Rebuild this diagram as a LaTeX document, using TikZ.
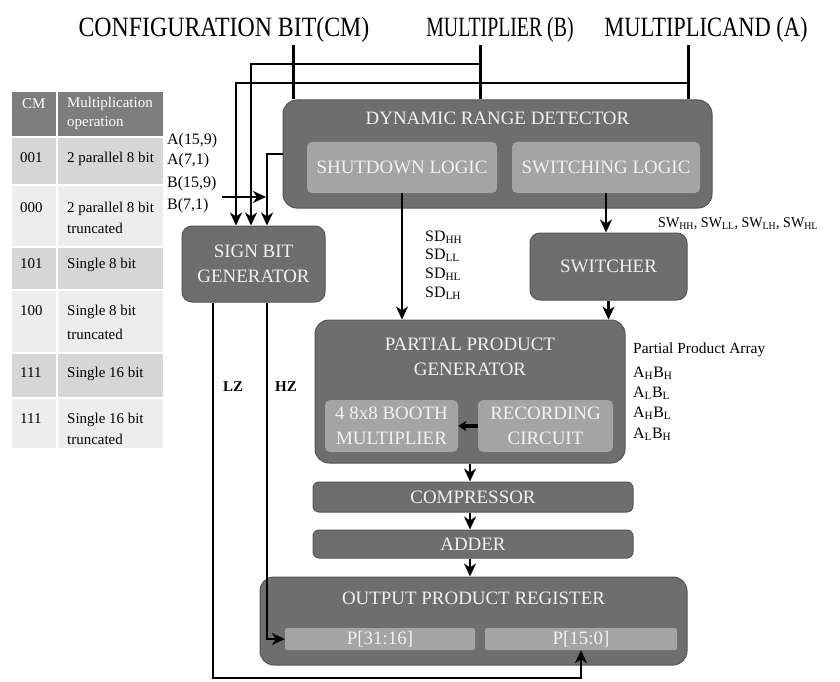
\documentclass[tikz,border=0pt]{standalone}
\usepackage{fontspec}
\setmainfont{Liberation Serif}
\usetikzlibrary{arrows.meta,calc}
\definecolor{dk}{RGB}{110,110,110}
\definecolor{lt}{RGB}{164,164,164}
\definecolor{edgec}{RGB}{85,85,85}
\definecolor{txt}{RGB}{242,242,242}
\definecolor{hdr}{RGB}{125,125,125}
\definecolor{rowa}{RGB}{214,214,214}
\definecolor{rowb}{RGB}{237,237,237}
\newcommand\fsz[2]{\fontsize{#1}{#2}\selectfont}
\begin{document}
\begin{tikzpicture}[x=1bp,y=-1bp,
  dkbox/.style={rectangle,rounded corners=#1,fill=dk,draw=edgec,line width=1bp,inner sep=0pt},
  dkbox/.default=10bp,
  ltbox/.style={rectangle,rounded corners=#1,fill=lt,draw=none,inner sep=0pt},
  ltbox/.default=5bp,
  wh/.style 2 args={minimum width=#1bp,minimum height=#2bp},
  btxt/.style={text=txt,font=\fsz{19}{25},align=center,inner sep=0pt},
  ttl/.style={font=\fsz{28}{32},inner sep=2bp},
  lbl/.style={font=\fsz{16}{18},inner sep=0pt,anchor=base west},
  tbl/.style={font=\fsz{15}{17},inner sep=0pt,anchor=base west},
  tblh/.style={font=\fsz{15}{17},inner sep=0pt,anchor=base west,text=white},
  wire/.style={line width=3bp},
  arr/.style={line width=2.8bp,-{Stealth[length=13bp,width=12bp,inset=4bp]}},
  sarr/.style={line width=3.2bp,-{Stealth[length=8bp,width=10bp,inset=2bp]}}]
\useasboundingbox[fill=white] (0,0) rectangle (840,682);

% ---- table ----
\fill[hdr]  (12,92)  rectangle (163,137);
\fill[rowa] (12,137) rectangle (163,185);
\fill[rowb] (12,185) rectangle (163,247);
\fill[rowa] (12,247) rectangle (163,290);
\fill[rowb] (12,290) rectangle (163,353);
\fill[rowa] (12,353) rectangle (163,398);
\fill[rowb] (12,398) rectangle (163,448);
\foreach \yy in {137,185,247,290,353,398} \draw[white,line width=1.5bp] (12,\yy) -- (163,\yy);
\draw[white,line width=2bp] (57,92) -- (57,448);
\node[tblh] (hcm) at (22,109) {CM};
\node[tblh] (hmo) at (67,108) {Multiplication};
\node[tblh] (hmo2) at (67,127) {operation};
\node[tbl] (r1a) at (20,163) {001};
\node[tbl] (r1b) at (67,163) {2 parallel 8 bit};
\node[tbl] (r2a) at (20,212) {000};
\node[tbl] (r2b) at (67,212) {2 parallel 8 bit};
\node[tbl] (r2c) at (67,233) {truncated};
\node[tbl] (r3a) at (20,268) {101};
\node[tbl] (r3b) at (67,268) {Single 8 bit};
\node[tbl] (r4a) at (20,315) {100};
\node[tbl] (r4b) at (67,315) {Single 8 bit};
\node[tbl] (r4c) at (67,339) {truncated};
\node[tbl] (r5a) at (20,377) {111};
\node[tbl] (r5b) at (67,377) {Single 16 bit};
\node[tbl] (r6a) at (20,423) {111};
\node[tbl] (r6b) at (67,423) {Single 16 bit};
\node[tbl] (r6c) at (67,444) {truncated};

% ---- titles ----
\node[ttl] (cfgt) at (224,30) {\scalebox{0.855}[1]{CONFIGURATION BIT(CM)}};
\node[ttl] (mult) at (500,30) {\scalebox{0.71}[1]{MULTIPLIER (B)}};
\node[ttl] (mcand) at (706,30) {\scalebox{0.805}[1]{MULTIPLICAND (A)}};

% ---- boxes ----
\node[dkbox=14bp,wh={429}{108}] (drd) at (497.5,154) {};
\node[btxt] (drdt) at (497.5,118) {DYNAMIC RANGE DETECTOR};
\node[ltbox,wh={190}{51},btxt] (sdl) at (402,167.5) {SHUTDOWN LOGIC};
\node[ltbox,wh={188}{51},btxt] (swl) at (606,167.5) {SWITCHING LOGIC};
\node[dkbox,wh={143}{76},btxt] (sbg) at (253.5,264) {SIGN BIT\\GENERATOR};
\node[dkbox,wh={157}{67},btxt] (swr) at (608.5,266.5) {SWITCHER};
\node[dkbox=14bp,wh={310}{143}] (ppg) at (470,391.5) {};
\node[btxt] (ppgt) at (470,357) {PARTIAL PRODUCT\\GENERATOR};
\node[ltbox,wh={133}{52},btxt] (booth) at (391.5,426) {4 8x8 BOOTH\\MULTIPLIER};
\node[ltbox,wh={135}{52},btxt] (rec) at (545.5,426) {RECORDING\\CIRCUIT};
\node[dkbox=6bp,wh={320}{30},btxt] (comp) at (473,497) {COMPRESSOR};
\node[dkbox=6bp,wh={320}{28},btxt] (add) at (473,544) {ADDER};
\node[dkbox=14bp,wh={427}{88}] (opr) at (473.5,621) {};
\node[btxt] (oprt) at (473.5,598) {OUTPUT PRODUCT REGISTER};
\node[ltbox=2bp,wh={190}{22},btxt] (p1) at (380,639) {P[31:16]};
\node[ltbox=2bp,wh={192}{22},btxt] (p2) at (581,639) {P[15:0]};

% ---- labels ----
\node[lbl] (la1) at (167,145) {A(15,9)};
\node[lbl] (la2) at (167,165) {A(7,1)};
\node[lbl] (lb1) at (167,187) {B(15,9)};
\node[lbl] (lb2) at (167,209) {B(7,1)};
\node[lbl] (sd1) at (425,241) {SD\textsubscript{HH}};
\node[lbl] (sd2) at (425,259) {SD\textsubscript{LL}};
\node[lbl] (sd3) at (425,278) {SD\textsubscript{HL}};
\node[lbl] (sd4) at (425,297) {SD\textsubscript{LH}};
\node[lbl,font=\fsz{15}{17}] (swlab) at (658,227) {\scalebox{0.94}[1]{SW\textsubscript{HH}, SW\textsubscript{LL}, SW\textsubscript{LH}, SW\textsubscript{HL}}};
\node[lbl,font=\fsz{15.5}{17}] (ppa) at (633,353) {Partial Product Array};
\node[lbl] (pp1) at (633,377) {A\textsubscript{H}B\textsubscript{H}};
\node[lbl] (pp2) at (633,397) {A\textsubscript{L}B\textsubscript{L}};
\node[lbl] (pp3) at (633,417) {A\textsubscript{H}B\textsubscript{L}};
\node[lbl] (pp4) at (633,438) {A\textsubscript{L}B\textsubscript{H}};
\node[font=\fsz{15}{17}\bfseries,inner sep=0pt] (lz) at (233,387) {LZ};
\node[font=\fsz{15}{17}\bfseries,inner sep=0pt] (hz) at (286,387) {HZ};

% ---- coordinates ----
\coordinate (xcfg) at (293,0);
\coordinate (xmul) at (480,0);
\coordinate (xmc) at (688,0);
\coordinate (jm) at (480,64);
\coordinate (ja) at (688,83);
\coordinate (xb) at (251,0);
\coordinate (xa) at (236,0);
\coordinate (xd) at (267,0);
\coordinate (ha) at (222,197);
\coordinate (hb) at (266,197);
\coordinate (xlz) at (213,0);
\coordinate (xhz) at (267,0);
\coordinate (ybot) at (0,678);

% ---- wires ----
\draw[wire] (cfgt.south -| xcfg) -- (drd.north -| xcfg);
\draw[wire] (mult.south -| xmul) -- (drd.north -| xmul);
\draw[wire] (mcand.south -| xmc) -- (drd.north -| xmc);
\draw[arr] (jm) -| (sbg.north -| xb);
\draw[arr] (ja) -| (sbg.north -| xa);
\draw[arr] (drd.west) -| (sbg.north -| xd);
\draw[arr] (ha) -- (hb);
\draw[arr] (sdl.south) -- (sdl.south |- ppg.north);
\draw[arr] (swl.south) -- (swl.south |- swr.north);
\draw[arr] (swr.south) -- (swr.south |- ppg.north);
\draw[sarr] (rec.west) -- (booth.east);
\draw[arr] (ppg.south) -- (ppg.south |- comp.north);
\draw[arr] (comp.south -| ppg.south) -- (ppg.south |- add.north);
\draw[arr] (add.south -| ppg.south) -- (ppg.south |- opr.north);
\draw[arr] (sbg.south -| xlz) |- (p2.south |- ybot) -- (p2.south);
\draw[arr] (sbg.south -| xhz) |- (p1.west);
\end{tikzpicture}
\end{document}
